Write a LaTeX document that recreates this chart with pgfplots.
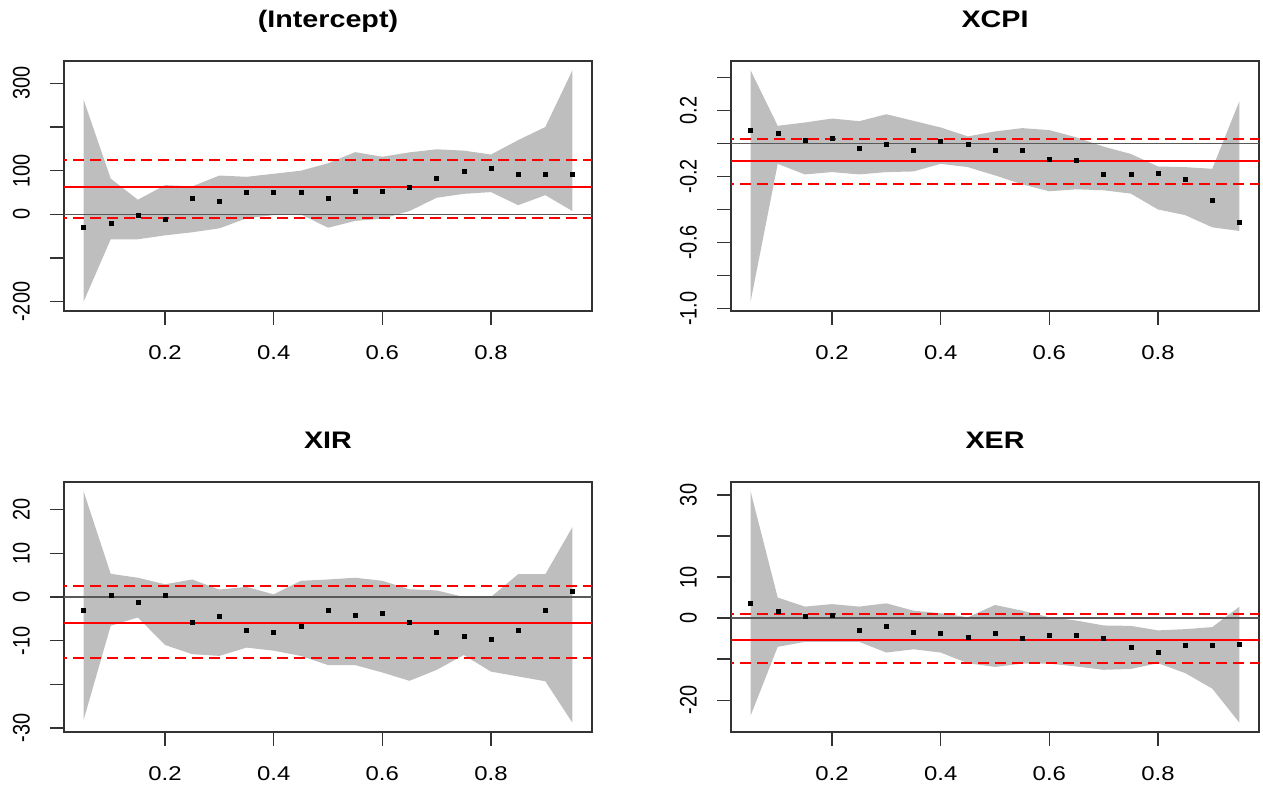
\documentclass[border=0pt]{standalone}
\usepackage{fontspec}
\setmainfont{Liberation Sans}
\usepackage{graphicx}
\usepackage{pgfplots}
\usepackage{pgfplotstable}
\pgfplotsset{compat=1.18}
\usepgfplotslibrary{fillbetween}

\definecolor{band}{RGB}{190,190,190}
\definecolor{zeroline}{gray}{0.35}
\definecolor{frame}{gray}{0.2}
\definecolor{rqred}{RGB}{255,0,0}

% R stretches the text a little wider than tall
\newcommand{\hx}[1]{\scalebox{1.2}[1]{#1}}
\newcommand{\vx}[1]{\scalebox{1}[1.2]{#1}}

% tau, coefficient, lower and upper band
\pgfplotstableread{
tau  coef  lo     hi
0.05 -29   -200   263
0.10 -21   -57    82
0.15 -1.5  -57    33.5
0.20 -11   -48    67
0.25 38    -41    64
0.30 31    -32    89
0.35 51    -9     86
0.40 51    -1.5   93
0.45 51    0      100
0.50 38    -30.5  117
0.55 54    -15    142.5
0.60 54    -10    132
0.65 62.5  7.6    142
0.70 82    38     149
0.75 98    47     146
0.80 106   51     137
0.85 93    21     170
0.90 93    44     200
0.95 93    7.6    330
}\intercept

\pgfplotstableread{
tau  coef    lo      hi
0.05 0.080   -0.958  0.442
0.10 0.060   -0.124  0.106
0.15 0.020   -0.188  0.126
0.20 0.030   -0.174  0.150
0.25 -0.030  -0.188  0.134
0.30 -0.008  -0.174  0.176
0.35 -0.042  -0.170  0.136
0.40 0.012   -0.124  0.096
0.45 -0.004  -0.144  0.042
0.50 -0.042  -0.194  0.072
0.55 -0.042  -0.248  0.092
0.60 -0.094  -0.290  0.080
0.65 -0.100  -0.278  0.036
0.70 -0.188  -0.284  -0.020
0.75 -0.188  -0.304  -0.064
0.80 -0.180  -0.400  -0.140
0.85 -0.218  -0.434  -0.144
0.90 -0.342  -0.508  -0.154
0.95 -0.480  -0.530  0.256
}\cpi

\pgfplotstableread{
tau  coef  lo     hi
0.05 -3.0  -28.2  24.2
0.10 0.4   -6.6   5.3
0.15 -1.1  -4.7   4.4
0.20 0.4   -11.0  2.9
0.25 -5.7  -13.1  4.0
0.30 -4.5  -13.5  1.7
0.35 -7.5  -11.6  2.3
0.40 -8.1  -12.3  0.6
0.45 -6.6  -13.5  3.7
0.50 -3.0  -15.6  4.0
0.55 -4.1  -15.6  4.4
0.60 -3.8  -17.3  3.7
0.65 -5.7  -19.2  1.75
0.70 -8.1  -16.7  1.5
0.75 -8.9  -13.3  0.0
0.80 -9.7  -17.1  0.0
0.85 -7.5  -18.2  5.2
0.90 -3.0  -19.3  5.2
0.95 1.4   -28.8  16.0
}\ir

\pgfplotstableread{
tau  coef  lo     hi
0.05 3.7   -23.8  30.9
0.10 1.6   -7.0   5.0
0.15 0.4   -5.8   2.8
0.20 0.8   -5.8   3.4
0.25 -3.0  -5.8   2.8
0.30 -2.1  -8.4   3.6
0.35 -3.4  -7.6   1.8
0.40 -3.8  -8.4   1.2
0.45 -4.6  -11.0  0.2
0.50 -3.8  -11.9  3.2
0.55 -5.0  -11.1  1.8
0.60 -4.2  -11.1  0.2
0.65 -4.2  -11.8  -0.6
0.70 -5.0  -12.6  -1.8
0.75 -7.0  -12.4  -1.9
0.80 -8.4  -11.0  -3.0
0.85 -6.7  -13.4  -2.7
0.90 -6.7  -17.2  -2.2
0.95 -6.3  -25.5  2.8
}\er

\pgfplotsset{
  rqpanel/.style={
    scale only axis, width=528bp, height=250bp,
    anchor=south west,
    xmin=0.014, xmax=0.986,
    axis line style={frame, line width=1.3bp},
    tick align=outside, major tick length=14bp,
    tick style={frame, line width=1.3bp},
    xtick pos=bottom, ytick pos=left,
    xtick={0.2,0.4,0.6,0.8},
    xticklabels={\hx{0.2},\hx{0.4},\hx{0.6},\hx{0.8}},
    xticklabel style={font=\fontsize{20}{24}\selectfont, anchor=north, inner sep=0pt, yshift=-20bp},
    yticklabel style={font=\fontsize{20}{24}\selectfont, xshift=-20bp, rotate=90, anchor=south, inner sep=0pt},
    title style={font=\bfseries\fontsize{24}{28}\selectfont, at={(0.5,1)}, anchor=base, inner sep=0pt, yshift=28bp},
  },
  rqmid/.style={draw=rqred, line width=1.8bp, solid},
  rqci/.style={draw=rqred, line width=1.8bp, dash pattern=on 11bp off 6bp},
}

% band, estimates, zero line
\newcommand{\rqbody}[1]{%
  \addplot[name path=hi, draw=none, forget plot] table[x=tau, y=hi] {#1};
  \addplot[name path=lo, draw=none, forget plot] table[x=tau, y=lo] {#1};
  \addplot[fill=band, draw=none] fill between[of=hi and lo];
  \addplot[only marks, mark=square*, mark size=2bp, black] table[x=tau, y=coef] {#1};
  \addplot[draw=zeroline, line width=1.2bp] coordinates {(0,0) (1,0)};
}

\begin{document}
\begin{tikzpicture}
\path (0,0) rectangle (1263bp,791bp);

\begin{axis}[rqpanel, at={(64bp,480bp)}, title={\hx{(Intercept)}},
  ymin=-221.2, ymax=351.2,
  ytick={-200,-100,0,100,200,300},
  yticklabels={\vx{-200},,\vx{0},\vx{100},,\vx{300}}]
\rqbody{\intercept}
\addplot[rqmid] coordinates {(0,62.5) (1,62.5)};
\addplot[rqci] coordinates {(0,124) (1,124)};
\addplot[rqci] coordinates {(0,-7.6) (1,-7.6)};
\end{axis}

\begin{axis}[rqpanel, at={(731bp,480bp)}, title={\hx{XCPI}},
  ymin=-1.014, ymax=0.498,
  ytick={-1.0,-0.8,-0.6,-0.4,-0.2,0,0.2,0.4},
  yticklabels={\vx{-1.0},,\vx{-0.6},,\vx{-0.2},,\vx{0.2},}]
\rqbody{\cpi}
\addplot[rqmid] coordinates {(0,-0.108) (1,-0.108)};
\addplot[rqci] coordinates {(0,0.028) (1,0.028)};
\addplot[rqci] coordinates {(0,-0.246) (1,-0.246)};
\end{axis}

\begin{axis}[rqpanel, at={(64bp,59bp)}, title={\hx{XIR}},
  ymin=-30.92, ymax=26.32,
  ytick={-30,-20,-10,0,10,20},
  yticklabels={\vx{-30},,\vx{-10},\vx{0},\vx{10},\vx{20}}]
\rqbody{\ir}
\addplot[rqmid] coordinates {(0,-6.0) (1,-6.0)};
\addplot[rqci] coordinates {(0,2.5) (1,2.5)};
\addplot[rqci] coordinates {(0,-13.9) (1,-13.9)};
\end{axis}

\begin{axis}[rqpanel, at={(731bp,59bp)}, title={\hx{XER}},
  ymin=-27.76, ymax=33.16,
  ytick={-20,-10,0,10,20,30},
  yticklabels={\vx{-20},,\vx{0},\vx{10},,\vx{30}}]
\rqbody{\er}
\addplot[rqmid] coordinates {(0,-5.25) (1,-5.25)};
\addplot[rqci] coordinates {(0,0.9) (1,0.9)};
\addplot[rqci] coordinates {(0,-11.0) (1,-11.0)};
\end{axis}
\end{tikzpicture}
\end{document}
